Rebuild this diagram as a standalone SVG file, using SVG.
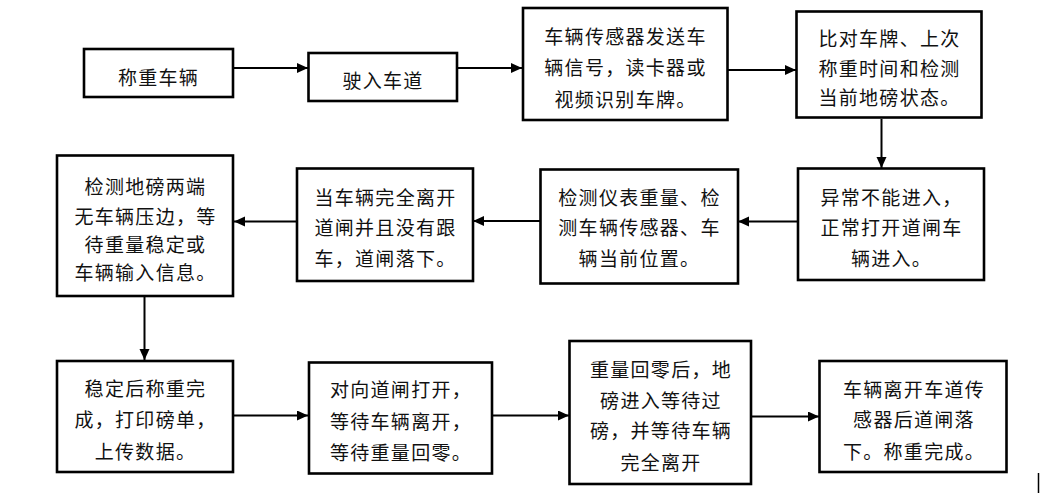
<svg xmlns="http://www.w3.org/2000/svg" width="1047" height="493" viewBox="0 0 1047 493">
<style>
.box{fill:#fff;stroke:#000;stroke-width:2.6}
.t{font-family:"Noto Sans CJK SC","Noto Sans CJK JP",sans-serif;font-size:19px;letter-spacing:1.3px;fill:#111;text-anchor:middle}
.c{stroke:#000;stroke-width:2;fill:none;marker-end:url(#ah)}
</style>
<defs>
<marker id="ah" markerUnits="userSpaceOnUse" markerWidth="12" markerHeight="11" refX="11" refY="5" orient="auto">
<path d="M0,0 L11,5 L0,10 z" fill="#000"/>
</marker>
</defs>
<rect width="1047" height="493" fill="#fff"/>
<g id="connectors">
<line class="c" x1="234" y1="68" x2="308" y2="68"/>
<line class="c" x1="458" y1="68" x2="522" y2="68"/>
<line class="c" x1="728" y1="70" x2="796" y2="70"/>
<line class="c" x1="881.5" y1="119" x2="881.5" y2="168"/>
<line class="c" x1="797" y1="221.5" x2="738" y2="221.5"/>
<line class="c" x1="540" y1="221" x2="473" y2="221"/>
<line class="c" x1="296" y1="221.5" x2="234" y2="221.5"/>
<line class="c" x1="144.5" y1="297" x2="144.5" y2="360"/>
<line class="c" x1="234" y1="415.5" x2="308" y2="415.5"/>
<line class="c" x1="492" y1="415.5" x2="569" y2="415.5"/>
<line class="c" x1="751" y1="416.5" x2="819" y2="416.5"/>
</g>
<g id="n1"><rect class="box" x="84" y="49" width="149" height="48"/><text class="t" x="158.5" y="84.5">称重车辆</text></g>
<g id="n2"><rect class="box" x="308.5" y="53" width="148.5" height="48"/><text class="t" x="383" y="88">驶入车道</text></g>
<g id="n3"><rect class="box" x="523" y="8" width="204.5" height="112"/>
<text class="t" x="625.5" y="43.5">车辆传感器发送车</text>
<text class="t" x="625.5" y="75">辆信号，读卡器或</text>
<text class="t" x="625.5" y="106.5">视频识别车牌。</text></g>
<g id="n4"><rect class="box" x="796.5" y="11.5" width="185" height="106"/>
<text class="t" x="889.5" y="45.5">比对车牌、上次</text>
<text class="t" x="889.5" y="75.5">称重时间和检测</text>
<text class="t" x="889.5" y="105">当前地磅状态。</text></g>
<g id="n8"><rect class="box" x="798" y="168.5" width="186" height="111.5"/>
<text class="t" x="891.5" y="205">异常不能进入，</text>
<text class="t" x="891.5" y="235">正常打开道闸车</text>
<text class="t" x="891.5" y="265.5">辆进入。</text></g>
<g id="n7"><rect class="box" x="540.5" y="169.5" width="197.5" height="114"/>
<text class="t" x="639.5" y="205">检测仪表重量、检</text>
<text class="t" x="639.5" y="235">测车辆传感器、车</text>
<text class="t" x="639.5" y="265.5">辆当前位置。</text></g>
<g id="n6"><rect class="box" x="297" y="168.5" width="176" height="112.5"/>
<text class="t" x="385.5" y="205">当车辆完全离开</text>
<text class="t" x="385.5" y="235">道闸并且没有跟</text>
<text class="t" x="385.5" y="265.5">车，道闸落下。</text></g>
<g id="n5"><rect class="box" x="57" y="155.5" width="176" height="140.5"/>
<text class="t" x="145.5" y="193.5">检测地磅两端</text>
<text class="t" x="145.5" y="223.5">无车辆压边，等</text>
<text class="t" x="145.5" y="252">待重量稳定或</text>
<text class="t" x="145.5" y="279.5">车辆输入信息。</text></g>
<g id="n9"><rect class="box" x="57" y="361" width="176" height="111"/>
<text class="t" x="145.5" y="395.5">稳定后称重完</text>
<text class="t" x="145.5" y="427">成，打印磅单，</text>
<text class="t" x="145.5" y="458.5">上传数据。</text></g>
<g id="n10"><rect class="box" x="309" y="362.5" width="183" height="111"/>
<text class="t" x="401" y="397">对向道闸打开，</text>
<text class="t" x="401" y="428.5">等待车辆离开，</text>
<text class="t" x="401" y="460">等待重量回零。</text></g>
<g id="n11"><rect class="box" x="569.5" y="341" width="181.5" height="143"/>
<text class="t" x="661" y="377">重量回零后，地</text>
<text class="t" x="661" y="407.5">磅进入等待过</text>
<text class="t" x="661" y="438">磅，并等待车辆</text>
<text class="t" x="661" y="470">完全离开</text></g>
<g id="n12"><rect class="box" x="819.5" y="361" width="187" height="111"/>
<text class="t" x="914" y="397">车辆离开车道传</text>
<text class="t" x="914" y="427">感器后道闸落</text>
<text class="t" x="914" y="458.5">下。称重完成。</text></g>
<line x1="1038.5" y1="473" x2="1038.5" y2="493" stroke="#000" stroke-width="1.5"/>
</svg>
